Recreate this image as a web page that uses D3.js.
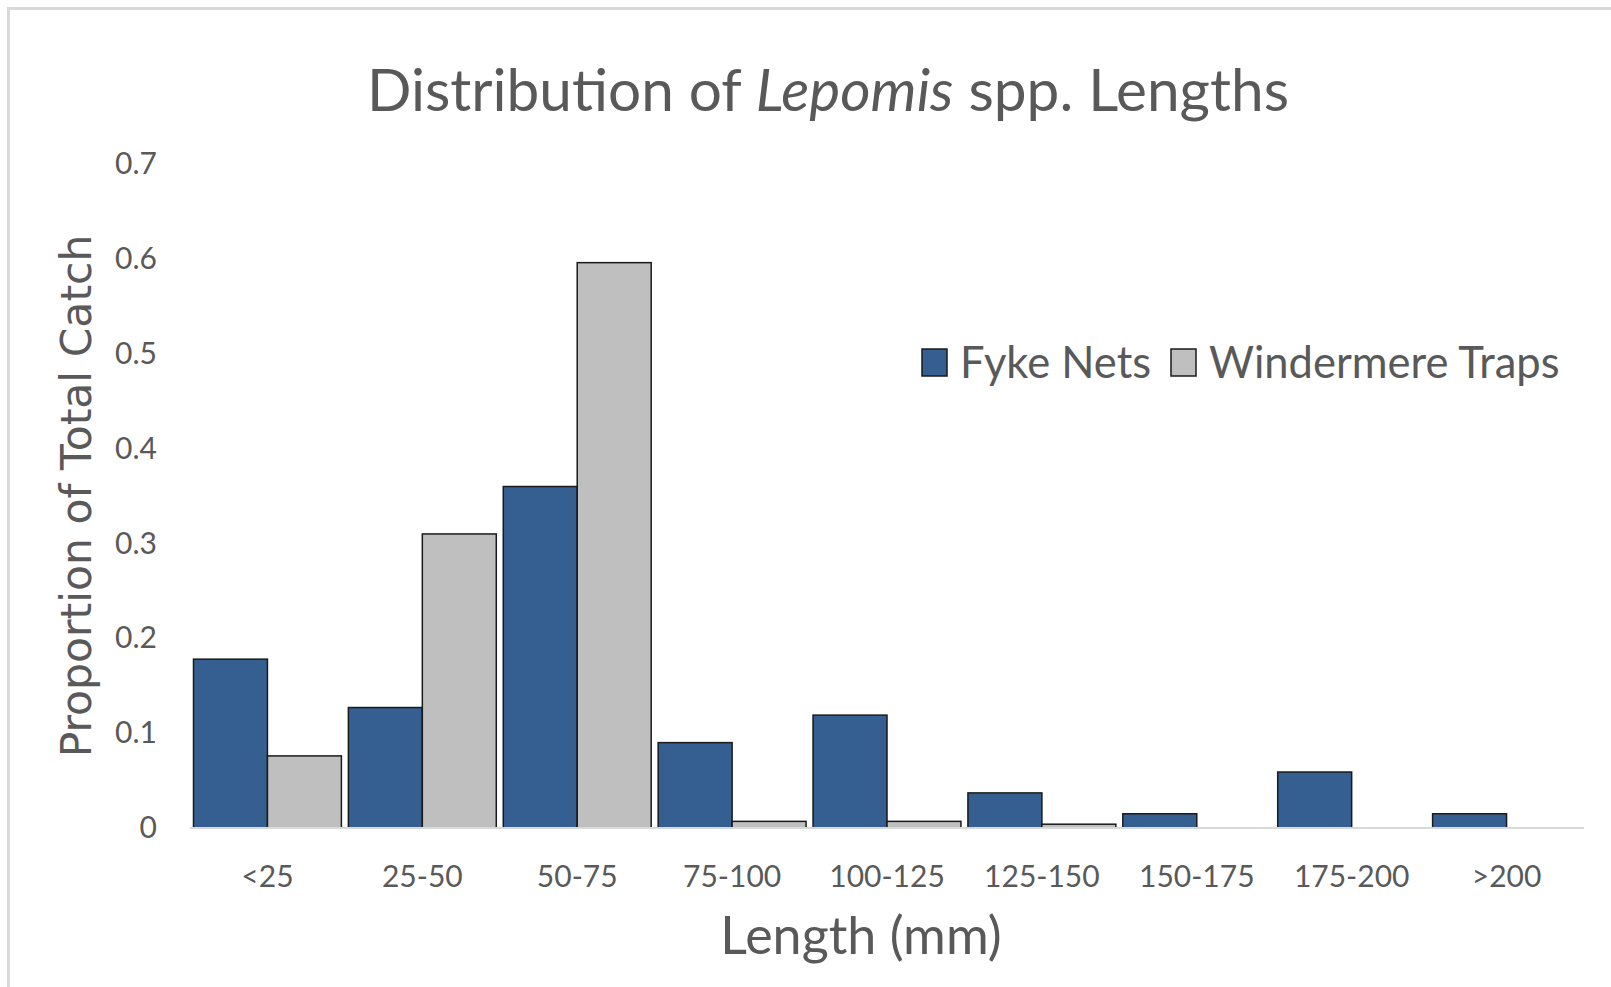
<!DOCTYPE html>
<html>
<head>
<meta charset="utf-8">
<script src="https://cdn.jsdelivr.net/npm/d3@7"></script>
<style>
  body { margin: 0; background: #fff; }
  text { fill: #595959; }
</style>
</head>
<body>
<div id="chart"></div>
<script>
/* Data */
var lengthClasses = ["<25", "25-50", "50-75", "75-100", "100-125", "125-150", "150-175", "175-200", ">200"];
var seriesNames = ["Fyke Nets", "Windermere Traps"];
var fykeNets = [0.178, 0.127, 0.360, 0.090, 0.119, 0.037, 0.015, 0.059, 0.015];
var windermereTraps = [0.076, 0.310, 0.596, 0.007, 0.007, 0.004, 0, 0, 0];
var yTicks = [0, 0.1, 0.2, 0.3, 0.4, 0.5, 0.6, 0.7];

var seriesColors = { "Fyke Nets": "#355f91", "Windermere Traps": "#bfbfbf" };

var bc = new Object();
bc.width = 1611;
bc.height = 987;
bc.plot = { left: 190, right: 1584, top: 164, bottom: 828 };

bc.svg = d3.select("#chart").append("svg")
  .attr("width", bc.width)
  .attr("height", bc.height);

/* chart frame (only top and left edges show in the picture) */
bc.svg.append("rect")
  .attr("x", 8.5).attr("y", 8.5)
  .attr("width", bc.width + 20).attr("height", bc.height + 20)
  .style("fill", "none")
  .style("stroke", "#d9d9d9")
  .style("stroke-width", 3);

/* x & y functions */
bc.x = d3.scaleBand()
  .domain(lengthClasses)
  .range([bc.plot.left, bc.plot.right])
  .paddingInner(0.045)
  .paddingOuter(0.0225);
bc.xs = d3.scaleBand()
  .domain(seriesNames)
  .range([0, bc.x.bandwidth()]);
bc.y = d3.scaleLinear()
  .domain([0, 0.7])
  .range([bc.plot.bottom, bc.plot.top]);

var rows = lengthClasses.map(function (c, i) {
  return { cls: c, values: [
    { name: seriesNames[0], v: fykeNets[i] },
    { name: seriesNames[1], v: windermereTraps[i] }
  ]};
});

/* bars */
bc.groups = bc.svg.selectAll(".grp")
  .data(rows)
  .enter()
  .append("g")
  .attr("class", "grp")
  .attr("transform", function (r) { return "translate(" + bc.x(r.cls) + ",0)"; });

bc.groups.selectAll("rect")
  .data(function (r) { return r.values.filter(function (d) { return d.v > 0; }); })
  .enter()
  .append("rect")
  .attr("x", function (d) { return bc.xs(d.name); })
  .attr("y", function (d) { return bc.y(d.v); })
  .attr("width", bc.xs.bandwidth())
  .attr("height", function (d) { return bc.y(0) - bc.y(d.v); })
  .style("fill", function (d) { return seriesColors[d.name]; })
  .style("stroke", "#1a1a1a")
  .style("stroke-width", 1.5);

/* baseline */
bc.svg.append("line")
  .attr("x1", bc.plot.left).attr("x2", bc.plot.right)
  .attr("y1", bc.y(0)).attr("y2", bc.y(0))
  .style("stroke", "#d9d9d9")
  .style("stroke-width", 2);

/* y axis labels */
bc.yAxis = bc.svg.append("g")
  .attr("transform", "translate(157,0)")
  .call(d3.axisLeft(bc.y).tickValues(yTicks).tickSize(0).tickPadding(0)
    .tickFormat(function (d) { return d === 0 ? "0" : d3.format(".1f")(d); }));
bc.yAxis.select(".domain").remove();
bc.yAxis.selectAll("text")
  .style("font-family", "Lato")
  .style("font-size", "30px")
  .style("fill", "#595959");

/* x axis labels */
bc.xAxis = bc.svg.append("g")
  .attr("transform", "translate(0,866)")
  .call(d3.axisBottom(bc.x).tickSize(0).tickPadding(0));
bc.xAxis.select(".domain").remove();
bc.xAxis.selectAll("text")
  .style("font-family", "Lato")
  .style("font-size", "30px")
  .style("fill", "#595959");

/* title */
var title = bc.svg.append("text")
  .attr("x", 828).attr("y", 111)
  .style("text-anchor", "middle")
  .style("font-family", "Lato")
  .style("font-size", "58.5px");
title.append("tspan").text("Distribution of ");
title.append("tspan").style("font-style", "italic").text("Lepomis");
title.append("tspan").text(" spp. Lengths");

/* axis titles */
bc.svg.append("text")
  .attr("x", 861).attr("y", 954)
  .style("text-anchor", "middle")
  .style("font-family", "Lato")
  .style("font-size", "52px")
  .text("Length (mm)");

bc.svg.append("text")
  .attr("transform", "translate(91,496) rotate(-90)")
  .style("text-anchor", "middle")
  .style("font-family", "DejaVu Sans")
  .style("font-size", "42.5px")
  .text("Proportion of Total Catch");

/* legend */
bc.legend = bc.svg.selectAll(".legend-element")
  .data(seriesNames)
  .enter()
  .append("g")
  .attr("class", "legend-element")
  .attr("transform", function (d, i) { return "translate(" + [922, 1171][i] + ",349)"; });
bc.legend.append("rect")
  .attr("width", 25).attr("height", 27)
  .style("fill", function (d) { return seriesColors[d]; })
  .style("stroke", "#1a1a1a")
  .style("stroke-width", 1.5);
bc.legend.append("text")
  .attr("x", 38).attr("y", 29)
  .style("font-family", "Lato")
  .style("font-size", "43.5px")
  .text(function (d) { return d; });
</script>
</body>
</html>
